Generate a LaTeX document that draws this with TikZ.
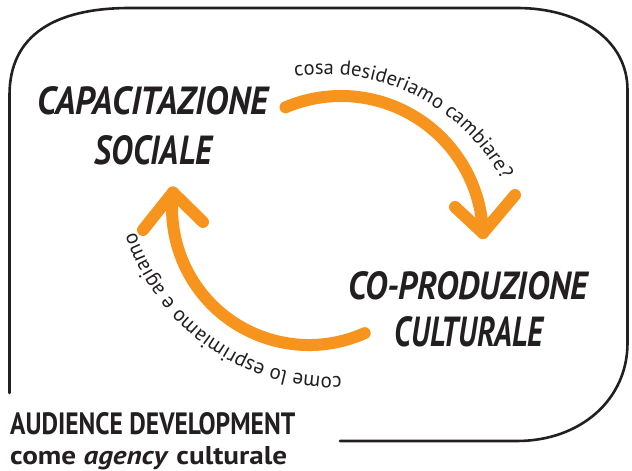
\documentclass[tikz,border=0pt]{standalone}
\usepackage{fontspec}
\setmainfont{PT Sans}
\usepackage{graphicx}
\usetikzlibrary{decorations.text}
\definecolor{ink}{RGB}{35,31,32}
\definecolor{orng}{RGB}{247,148,29}
\begin{document}
\begin{tikzpicture}[x=1pt,y=1pt,
  frame/.style={draw=ink, line width=2.6pt, line cap=round, line join=round},
  flow/.style={draw=orng, line width=12pt, line cap=round, line join=round},
  head/.style={inner sep=0pt, text=ink, font=\bfseries\itshape},
  foot/.style={inner sep=0pt, text=ink, font=\bfseries},
  curvetext/.style={decorate, decoration={text along path, text align=center, text color=ink}}]
\useasboundingbox (0,0) rectangle (632,471);
% frame
\draw[frame] (9.5,78) -- (9.5,376) .. controls (9.5,436) and (55,463) .. (130,463)
  -- (517,463) .. controls (580,463) and (627.5,431) .. (627.5,381)
  -- (627.5,128) .. controls (627.5,71) and (580,30) .. (517,30) -- (340,30);
% headings
\node[head, anchor=south] (capa) at (153,356) {\resizebox{230pt}{28pt}{CAPACITAZIONE}};
\node[head, anchor=south] (soc) at (153.5,306) {\resizebox{117pt}{29pt}{SOCIALE}};
\node[head, anchor=south] (copro) at (468,171) {\resizebox{240pt}{28pt}{CO-PRODUZIONE}};
\node[head, anchor=south] (cult) at (469,124) {\resizebox{148pt}{30pt}{CULTURALE}};
\node[foot, anchor=south west] (aud) at (10,36) {\resizebox{285pt}{22pt}{AUDIENCE DEVELOPMENT}};
\node[foot, anchor=base west] (agency) at (10,6) {\resizebox{277pt}{18pt}{come \textit{agency} culturale}};
% arrows
\coordinate (topc) at (341,233);
\coordinate (botc) at (309,263);
\coordinate (topw1) at (455,264);
\coordinate (topw2) at (515,276);
\coordinate (botw1) at (143,241);
\coordinate (botw2) at (203,249);
\draw[flow] (topc) ++(113:142) arc[start angle=113, end angle=2, radius=142] coordinate (toptip);
\draw[flow] (topw1) -- (toptip) -- (topw2);
\draw[flow] (botc) ++(-66:137) arc[start angle=-66, end angle=-186.5, radius=137] coordinate (bottip);
\draw[flow] (botw1) -- (bottip) -- (botw2);
% curved labels
\coordinate (toptc) at (325,195.5);
\coordinate (bottc) at (335,304);
\path[curvetext, decoration={text={|\fontsize{20.5}{21}\selectfont|cosa desideriamo cambiare?}}]
  (toptc) ++(104:201) arc[start angle=104, end angle=23, radius=201];
\path[curvetext, decoration={text={|\fontsize{21}{21}\selectfont|come lo esprimiamo e agiamo}}]
  (bottc) ++(-84:210) arc[start angle=-84, end angle=-166, radius=210];
\end{tikzpicture}
\end{document}
